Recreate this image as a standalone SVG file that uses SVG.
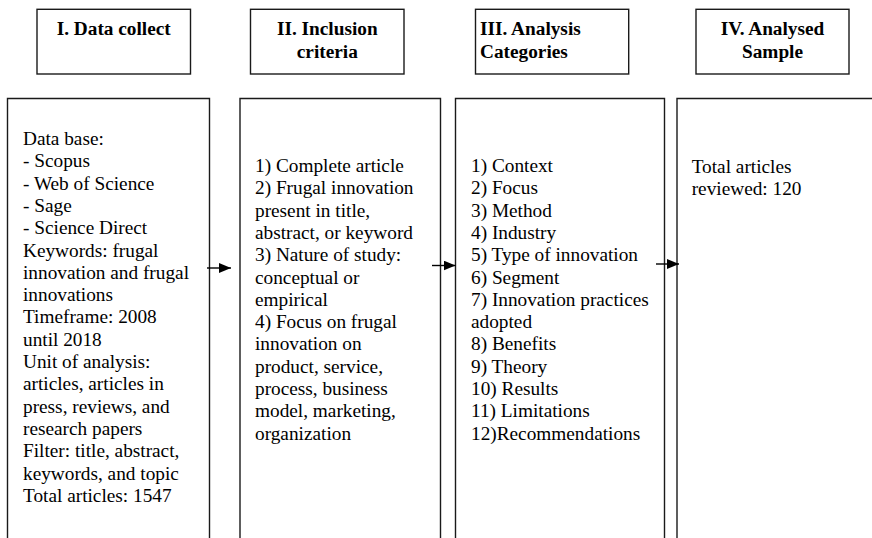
<svg xmlns="http://www.w3.org/2000/svg" width="872" height="538" viewBox="0 0 872 538">
<style>
.box{fill:none;stroke:#1a1a1a;stroke-width:1.4}
.hd{font-family:"Liberation Serif","Times New Roman",serif;font-size:19.3px;font-weight:bold;fill:#000}
.tx{font-family:"Liberation Serif","Times New Roman",serif;font-size:19.3px;fill:#000}
.conn{stroke:#000;stroke-width:1.4;fill:none}
</style>
<defs>
<marker id="ah" markerWidth="12" markerHeight="10" refX="12" refY="5" orient="auto" markerUnits="userSpaceOnUse">
<path d="M0,0 L12,5 L0,10 Z" fill="#000"/>
</marker>
</defs>
<rect width="872" height="538" fill="#fff"/>
<g id="header1">
<rect class="box" x="37" y="9.3" width="153.5" height="64.7"/>
<text class="hd" x="113.7" y="35" text-anchor="middle">I. Data collect</text>
</g>
<g id="header2">
<rect class="box" x="250.5" y="9.3" width="153.5" height="64.7"/>
<text class="hd" text-anchor="middle"><tspan x="327.3" y="35">II. Inclusion</tspan><tspan x="327.3" y="58">criteria</tspan></text>
</g>
<g id="header3">
<rect class="box" x="475.5" y="9.3" width="153.2" height="64.7"/>
<text class="hd"><tspan x="480" y="35">III. Analysis</tspan><tspan x="480" y="58">Categories</tspan></text>
</g>
<g id="header4">
<rect class="box" x="696" y="9.3" width="153" height="64.7"/>
<text class="hd" text-anchor="middle"><tspan x="772.5" y="35">IV. Analysed</tspan><tspan x="772.5" y="58">Sample</tspan></text>
</g>
<g id="box1">
<path class="box" d="M7.5,540 V98.5 H209.5 V540"/>
<text class="tx">
<tspan x="23" y="145">Data base:</tspan>
<tspan x="23" y="167.3">- Scopus</tspan>
<tspan x="23" y="189.6">- Web of Science</tspan>
<tspan x="23" y="211.9">- Sage</tspan>
<tspan x="23" y="234.2">- Science Direct</tspan>
<tspan x="23" y="256.5">Keywords: frugal</tspan>
<tspan x="23" y="278.8">innovation and frugal</tspan>
<tspan x="23" y="301.1">innovations</tspan>
<tspan x="23" y="323.4">Timeframe: 2008</tspan>
<tspan x="23" y="345.7">until 2018</tspan>
<tspan x="23" y="368">Unit of analysis:</tspan>
<tspan x="23" y="390.3">articles, articles in</tspan>
<tspan x="23" y="412.6">press, reviews, and</tspan>
<tspan x="23" y="434.9">research papers</tspan>
<tspan x="23" y="457.2">Filter: title, abstract,</tspan>
<tspan x="23" y="479.5">keywords, and topic</tspan>
<tspan x="23" y="501.8">Total articles: 1547</tspan>
</text>
</g>
<g id="box2">
<path class="box" d="M240,540 V98.5 H440.5 V540"/>
<text class="tx">
<tspan x="255" y="172">1) Complete article</tspan>
<tspan x="255" y="194.3">2) Frugal innovation</tspan>
<tspan x="255" y="216.6">present in title,</tspan>
<tspan x="255" y="238.9">abstract, or keyword</tspan>
<tspan x="255" y="261.2">3) Nature of study:</tspan>
<tspan x="255" y="283.5">conceptual or</tspan>
<tspan x="255" y="305.8">empirical</tspan>
<tspan x="255" y="328.1">4) Focus on frugal</tspan>
<tspan x="255" y="350.4">innovation on</tspan>
<tspan x="255" y="372.7">product, service,</tspan>
<tspan x="255" y="395">process, business</tspan>
<tspan x="255" y="417.3">model, marketing,</tspan>
<tspan x="255" y="439.6">organization</tspan>
</text>
</g>
<g id="box3">
<path class="box" d="M455.5,540 V98.5 H664.5 V540"/>
<text class="tx">
<tspan x="471" y="172">1) Context</tspan>
<tspan x="471" y="194.3">2) Focus</tspan>
<tspan x="471" y="216.6">3) Method</tspan>
<tspan x="471" y="238.9">4) Industry</tspan>
<tspan x="471" y="261.2">5) Type of innovation</tspan>
<tspan x="471" y="283.5">6) Segment</tspan>
<tspan x="471" y="305.8">7) Innovation practices</tspan>
<tspan x="471" y="328.1">adopted</tspan>
<tspan x="471" y="350.4">8) Benefits</tspan>
<tspan x="471" y="372.7">9) Theory</tspan>
<tspan x="471" y="395">10) Results</tspan>
<tspan x="471" y="417.3">11) Limitations</tspan>
<tspan x="471" y="439.6">12)Recommendations</tspan>
</text>
</g>
<g id="box4">
<path class="box" d="M677,540 V98.5 H874"/>
<text class="tx">
<tspan x="691.7" y="172.5">Total articles</tspan>
<tspan x="691.7" y="195">reviewed: 120</tspan>
</text>
</g>
<g id="connectors">
<line class="conn" x1="207" y1="268" x2="231" y2="268" marker-end="url(#ah)"/>
<line class="conn" x1="432" y1="265.5" x2="455.5" y2="265.5" marker-end="url(#ah)"/>
<line class="conn" x1="656" y1="264" x2="679" y2="264" marker-end="url(#ah)"/>
</g>
</svg>
